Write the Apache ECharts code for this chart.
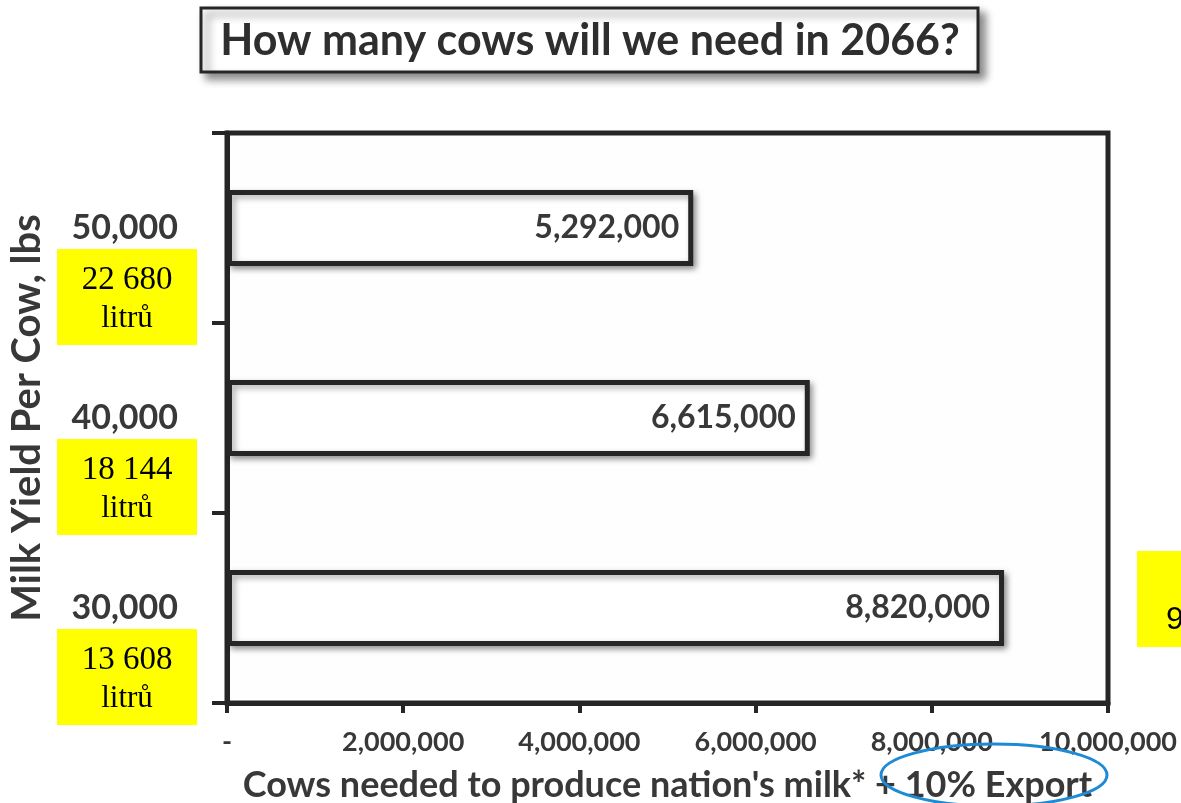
<!DOCTYPE html>
<html>
<head>
<meta charset="utf-8">
<title>How many cows will we need in 2066?</title>
<script src="https://cdn.jsdelivr.net/npm/echarts@6/dist/echarts.min.js"></script>
<style>
  html, body { margin: 0; padding: 0; background: #ffffff; }
  #chart { width: 1181px; height: 803px; }
</style>
</head>
<body>
<div id="chart"></div>
<script>
// Milk yield per cow (lbs) — category labels, bottom to top
const yieldLbs = ['30,000', '40,000', '50,000'];
// Same yields in litres (Czech notes shown under each category)
const yieldLitres = ['13 608', '18 144', '22 680'];
const litreUnit = 'litrů';
// Cows needed to produce the nation's milk + 10 % export
const cowsNeeded = [8820000, 6615000, 5292000];
// Horizontal axis ticks
const xMin = 0;
const xMax = 10000000;
const xStep = 2000000;

const titleText = 'How many cows will we need in 2066?';
const xTitle = "Cows needed to produce nation's milk* + 10% Export";
const yTitle = 'Milk Yield Per Cow, lbs';

const SANS = 'Lato, "Open Sans", sans-serif';
const SERIF = '"Liberation Serif", "DejaVu Serif", serif';
const INK = '#262626';
const TEXT = '#383838';

const fmt = v => v.toLocaleString('en-US');

const chart = echarts.init(document.getElementById('chart'), null, { renderer: 'canvas' });

const option = {
  backgroundColor: '#ffffff',
  animation: false,
  grid: {
    left: 227, right: 73, top: 133, bottom: 100,
    show: true, borderColor: INK, borderWidth: 5, backgroundColor: '#fefefe',
    containLabel: false,
    outerBoundsMode: 'none'
  },
  xAxis: {
    type: 'value',
    min: xMin, max: xMax, interval: xStep,
    name: xTitle,
    nameLocation: 'middle',
    nameGap: 64,
    nameTextStyle: { fontFamily: SANS, fontWeight: 'bold', fontSize: 36, color: TEXT },
    axisLine: { show: true, lineStyle: { color: INK, width: 5 } },
    axisTick: { show: true, length: 10, lineStyle: { color: INK, width: 4 } },
    splitLine: { show: false },
    axisLabel: {
      margin: 26,
      fontFamily: SANS, fontWeight: 'bold', fontSize: 27, color: TEXT,
      formatter: v => (v === 0 ? '-' : fmt(v))
    }
  },
  yAxis: {
    type: 'category',
    data: yieldLbs,
    name: yTitle,
    nameLocation: 'middle',
    nameGap: 180,
    nameRotate: 90,
    nameTextStyle: { fontFamily: SANS, fontWeight: 'bold', fontSize: 40, color: TEXT },
    axisLine: { show: true, lineStyle: { color: INK, width: 5 } },
    axisTick: { show: true, length: 15, lineStyle: { color: INK, width: 4 } },
    axisLabel: {
      margin: 49,
      fontFamily: SANS, fontWeight: 'bold', fontSize: 34, color: TEXT
    }
  },
  series: [{
    type: 'bar',
    data: cowsNeeded,
    barWidth: 76,
    itemStyle: {
      color: '#ffffff',
      borderColor: INK,
      borderWidth: 5,
      shadowBlur: 6,
      shadowColor: 'rgba(0,0,0,0.35)',
      shadowOffsetX: 3,
      shadowOffsetY: 3
    },
    label: {
      show: true,
      position: 'insideRight',
      distance: 14,
      fontFamily: SANS, fontWeight: 'bold', fontSize: 32, color: TEXT,
      formatter: p => fmt(p.value)
    }
  }]
};

chart.setOption(option);

// Annotation graphics: title box, litre notes under each yield, circled export note
const graphics = [];

// Title box with drop shadow
graphics.push({
  type: 'rect',
  shape: { x: 201, y: 8, width: 777, height: 64 },
  style: {
    fill: '#ffffff', stroke: INK, lineWidth: 3,
    shadowBlur: 8, shadowColor: 'rgba(0,0,0,0.45)', shadowOffsetX: 6, shadowOffsetY: 6
  },
  z: 10
});
graphics.push({
  type: 'text',
  x: 590, y: 41,
  style: {
    text: titleText, fontFamily: SANS, fontWeight: 'bold', fontSize: 43,
    fill: '#2e2e2e', textAlign: 'center', textVerticalAlign: 'middle'
  },
  z: 11
});

// Yellow litre boxes under each category label
yieldLbs.forEach((cat, i) => {
  const cy = chart.convertToPixel({ yAxisIndex: 0 }, cat);
  const top = cy + 21;
  graphics.push({
    type: 'rect',
    shape: { x: 57, y: top, width: 140, height: 96 },
    style: { fill: '#ffff00' },
    z: 5
  });
  graphics.push({
    type: 'text',
    x: 127, y: top + 31,
    style: {
      text: yieldLitres[i], fontFamily: SERIF, fontSize: 33, fill: '#000000',
      textAlign: 'center', textVerticalAlign: 'middle'
    },
    z: 6
  });
  graphics.push({
    type: 'text',
    x: 127, y: top + 70,
    style: {
      text: litreUnit, fontFamily: SERIF, fontSize: 31, fill: '#000000',
      textAlign: 'center', textVerticalAlign: 'middle'
    },
    z: 6
  });
});

// Partially visible note box at the right edge
graphics.push({
  type: 'rect',
  shape: { x: 1137, y: 551, width: 60, height: 96 },
  style: { fill: '#ffff00' },
  z: 5
});
graphics.push({
  type: 'text',
  x: 1166, y: 620,
  style: {
    text: '9', fontFamily: '"Liberation Sans", Arial, sans-serif', fontSize: 32,
    fill: '#000000', textAlign: 'left', textVerticalAlign: 'middle'
  },
  z: 6
});

// Ellipse circling the export share in the axis title
graphics.push({
  type: 'ellipse',
  shape: { cx: 994, cy: 775, rx: 113, ry: 31 },
  style: { fill: 'none', stroke: '#1c8ad4', lineWidth: 3 },
  z: 8
});

chart.setOption({ graphic: graphics });
</script>
</body>
</html>
